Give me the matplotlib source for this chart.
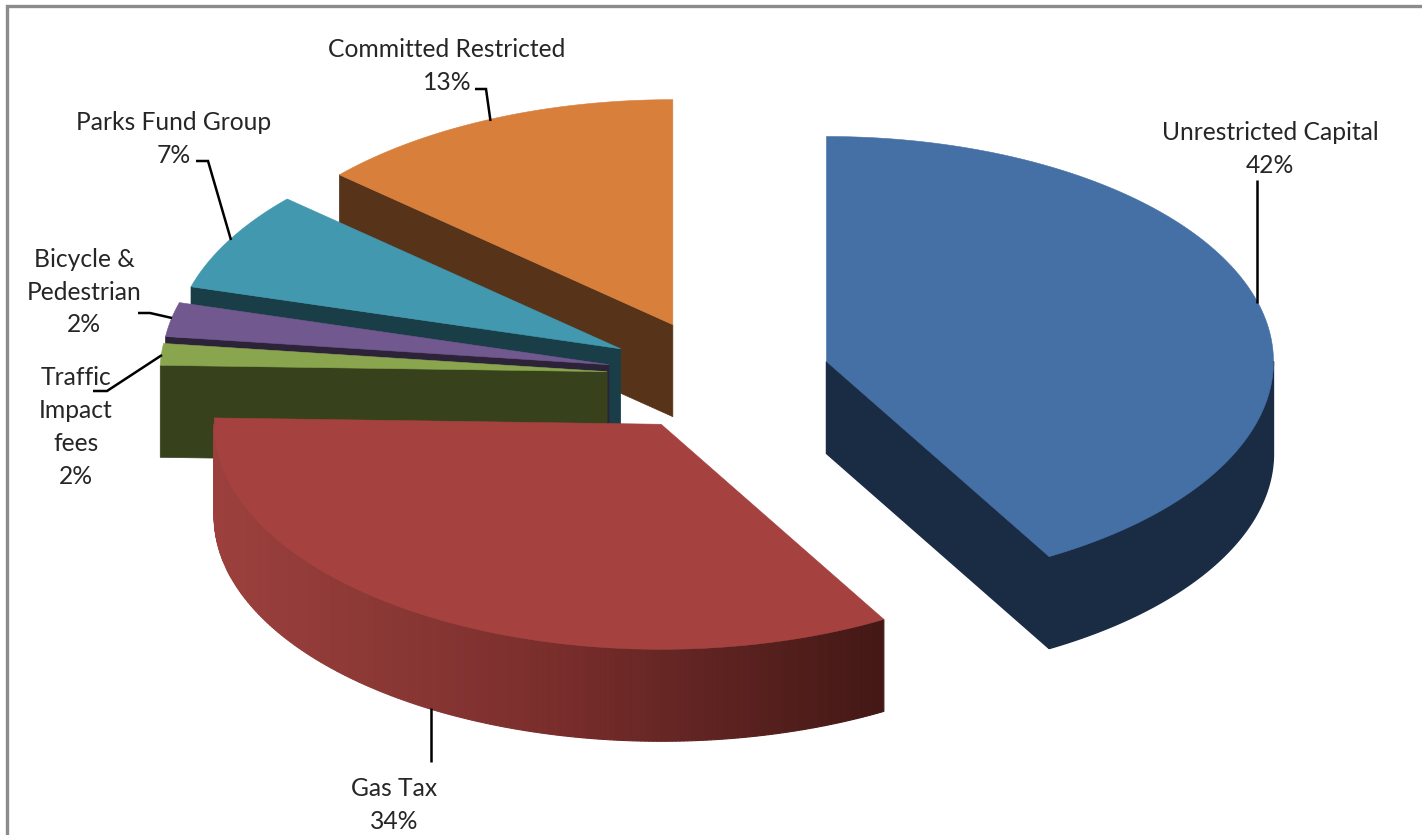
import numpy as np
import matplotlib
matplotlib.use("Agg")
import matplotlib.pyplot as plt
from matplotlib.patches import Polygon
from matplotlib.colors import LinearSegmentedColormap

names = ["Unrestricted Capital", "Gas Tax", "Traffic\nImpact\nfees", "Bicycle &\nPedestrian", "Parks Fund Group", "Committed Restricted"]
shares = [41.7, 33.75, 1.55, 2.45, 7.15, 13.4]
top_colors = ["#4570A6", "#A5423F", "#89A54E", "#71588F", "#4198AF", "#D87F3C"]
wall_colors = ["#1A2C44", "#7A2E2C", "#37411C", "#2D2339", "#193E48", "#57331A"]

label_xy = [(1270, 149), (394, 805), (76, 427), (84, 292), (174, 139), (447, 66)]
leaders = [
    [(1257, 303), (1257, 180)],
    [(431, 708), (431, 762)],
    [(162, 355), (107, 391), (93, 391)],
    [(172, 318), (150, 313), (138, 313)],
    [(231, 240), (208, 161), (196, 161)],
    [(490.5, 121), (486, 89), (475, 89)],
]

CX, CY, RX, RY, DEPTH, EXPLODE = 718.5, 376, 447, 225, 92, 0.25

fig = plt.figure(figsize=(14.22, 8.35), dpi=100, facecolor="white")
ax = fig.add_axes([0, 0, 1, 1])
ax.set_xlim(0, 1422)
ax.set_ylim(835, 0)
ax.axis("off")

edges = np.concatenate([[0], np.cumsum(shares)]) / np.sum(shares) * 2 * np.pi
spans = list(zip(edges[:-1], edges[1:]))


def apex(i):
    mid = sum(spans[i]) / 2
    return CX + EXPLODE * RX * np.sin(mid), CY - EXPLODE * RY * np.cos(mid)


def rim(i, a):
    x0, y0 = apex(i)
    return x0 + RX * np.sin(a), y0 - RY * np.cos(a)


def draw_slice(i, z):
    a0, a1 = spans[i]
    x0, y0 = apex(i)
    # outer wall, front half only
    lo, hi = max(a0, np.pi / 2), min(a1, 1.5 * np.pi)
    if hi > lo:
        ang = np.linspace(lo, hi, 241)
        x, y = rim(i, ang)
        if i == 1:
            cmap = LinearSegmentedColormap.from_list(
                "wall", ["#431815", "#5E2321", "#7A2E2C", "#8B3835", "#9C403D"])
            for k in range(len(ang) - 1):
                c = cmap((x.max() - x[k]) / (x.max() - x.min()))
                ax.add_patch(Polygon([(x[k], y[k]), (x[k + 1], y[k + 1]),
                                      (x[k + 1], y[k + 1] + DEPTH), (x[k], y[k] + DEPTH)],
                                     fc=c, ec=c, lw=0.8, zorder=z))
        else:
            pts = list(zip(x, y)) + list(zip(x[::-1], y[::-1] + DEPTH))
            ax.add_patch(Polygon(pts, fc=wall_colors[i], ec=wall_colors[i], lw=1, zorder=z))
    # radial cut wall, start edge (faces the viewer for the left half)
    if a0 > np.pi * 0.9:
        xs, ys = rim(i, a0)
        ax.add_patch(Polygon([(x0, y0), (xs, ys), (xs, ys + DEPTH), (x0, y0 + DEPTH)],
                             fc=wall_colors[i], ec=wall_colors[i], lw=0.5, zorder=z))
    # radial cut wall, end edge
    if a1 < np.pi:
        xe, ye = rim(i, a1)
        ax.add_patch(Polygon([(x0, y0), (xe, ye), (xe, ye + DEPTH), (x0, y0 + DEPTH)],
                             fc=wall_colors[i], ec=wall_colors[i], lw=1, zorder=z))
    # top face
    ang = np.linspace(a0, a1, 160)
    x, y = rim(i, ang)
    ax.add_patch(Polygon([(x0, y0)] + list(zip(x, y)), fc=top_colors[i], ec=top_colors[i],
                         lw=0.4, zorder=z + 0.5))


for z, i in enumerate([5, 4, 3, 2, 0, 1]):
    draw_slice(i, 2 + z)

for pts in leaders:
    p = np.array(pts)
    ax.plot(p[:, 0], p[:, 1], color="black", lw=1.8, solid_capstyle="butt",
            solid_joinstyle="miter", zorder=20)

for name, share, (lx, ly) in zip(names, shares, label_xy):
    ax.text(lx, ly, f"{name}\n{round(share)}%", ha="center", va="center", family="Lato",
            fontsize=17.7, color="#262626", linespacing=1.52, zorder=21)

# chart frame (left and top edges visible)
ax.plot([7, 7, 1422], [835, 6, 6], color="#8C8C8C", lw=2.4, solid_joinstyle="miter", zorder=1)

fig.savefig("out.png", dpi=100)
